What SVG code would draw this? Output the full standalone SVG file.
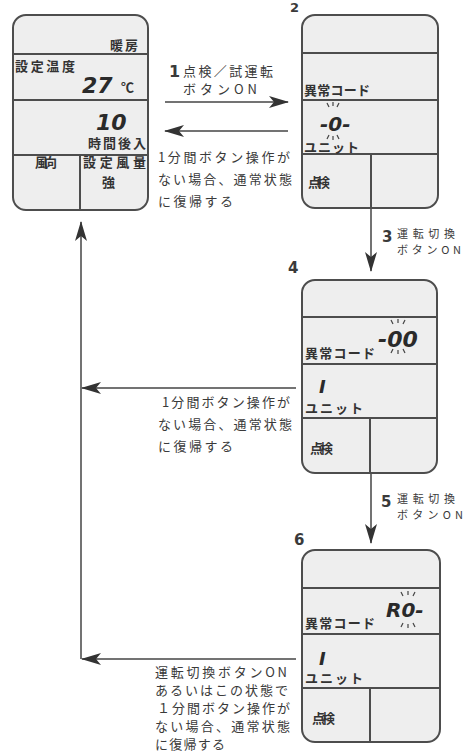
<svg xmlns="http://www.w3.org/2000/svg" width="468" height="752" viewBox="0 0 468 752">
<defs>
<marker id="ah" markerUnits="userSpaceOnUse" markerWidth="20" markerHeight="12" refX="19" refY="6" orient="auto">
<path d="M0,0 L20,6 L0,12 L5,6 z" fill="#333"/>
</marker>
<style>
.pnl{fill:#eeeeee;stroke:#4d4d4d;stroke-width:2}
.dv{stroke:#4d4d4d;stroke-width:2;fill:none}
.t{font-family:"Noto Sans CJK JP","Noto Sans",sans-serif;fill:#3a3a3a;font-size:13px}
.s{font-size:11px}
.pt{font-family:"Noto Sans CJK JP","Noto Sans",sans-serif;fill:#333;font-size:13px;font-weight:bold}
.num{font-family:"DejaVu Sans","Liberation Sans",sans-serif;fill:#3a3a3a;font-weight:bold}
.seg{font-family:"DejaVu Sans","Liberation Sans",sans-serif;font-style:italic;font-weight:bold;fill:#2a2a2a}
.bl{stroke:#444;stroke-width:1.2}
.cn{stroke:#444;stroke-width:1.5;fill:none}
</style>
</defs>
<rect width="468" height="752" fill="#ffffff"/>

<g id="node1">
<rect class="pnl" x="13" y="15" width="135" height="195" rx="13"/>
<path class="dv" d="M13,54 H148 M13,100 H148 M13,155 H148 M80,155 V210"/>
<text class="pt" x="110" y="50" textLength="28">暖房</text>
<text class="pt" x="15" y="71" textLength="60">設定温度</text>
<text class="seg" x="82" y="93" font-size="22" font-style="normal">27</text>
<text class="pt" x="121" y="92" font-size="14">℃</text>
<text class="seg" x="96" y="130" font-size="22">10</text>
<text class="pt" x="88" y="148" font-size="12" textLength="58">時間後入</text>
<text class="pt" x="35" y="167" font-size="12" textLength="22">風向</text>
<text class="pt" x="83" y="167" textLength="63">設定風量</text>
<text class="pt" x="102" y="187">強</text>
</g>

<g id="node2">
<text class="num" x="290" y="12" font-size="13">2</text>
<rect class="pnl" x="302" y="15" width="136" height="193" rx="13"/>
<path class="dv" d="M302,53 H438 M302,100 H438 M302,154 H438 M371,154 V208"/>
<text class="pt" x="304" y="95" textLength="66">異常コード</text>
<text class="seg" x="320" y="131" font-size="20">-0-</text>
<path class="bl" d="M327,103 L329,107 M333,102 V106 M339,103 L337,107 M327,139 L329,135 M333,140 V136 M339,139 L337,135"/>
<text class="pt" x="304" y="152" textLength="55">ユニット</text>
<text class="pt" x="308" y="187" font-size="12" textLength="22">点検</text>
</g>

<g id="node4">
<text class="num" x="288" y="273" font-size="15">4</text>
<rect class="pnl" x="302" y="280" width="135" height="193" rx="13"/>
<path class="dv" d="M302,317 H437 M302,364 H437 M302,418 H437 M370,418 V473"/>
<text class="pt" x="305" y="358" textLength="70">異常コード</text>
<text class="seg" x="378" y="347" font-size="22">-00</text>
<path class="bl" d="M391,320 L393,324 M398,319 V323 M405,320 L403,324 M391,353 L393,349 M398,354 V350 M405,353 L403,349"/>
<text class="seg" x="319" y="393" font-size="18">I</text>
<text class="pt" x="305" y="413" textLength="58">ユニット</text>
<text class="pt" x="310" y="453" font-size="12" textLength="23">点検</text>
</g>

<g id="node6">
<text class="num" x="294" y="545" font-size="15">6</text>
<rect class="pnl" x="302" y="550" width="138" height="192" rx="13"/>
<path class="dv" d="M302,588 H440 M302,634 H440 M302,688 H440 M370,688 V742"/>
<text class="pt" x="305" y="628" textLength="70">異常コード</text>
<text class="seg" x="386" y="617" font-size="20">R0-</text>
<path class="bl" d="M401,592 L403,596 M408,591 V595 M415,592 L413,596 M401,627 L403,623 M408,628 V624 M415,627 L413,623"/>
<text class="seg" x="319" y="665" font-size="18">I</text>
<text class="pt" x="305" y="683" textLength="58">ユニット</text>
<text class="pt" x="312" y="723" font-size="12" textLength="23">点検</text>
</g>

<g id="connectors">
<line class="cn" x1="165" y1="102" x2="288" y2="102" marker-end="url(#ah)"/>
<line class="cn" x1="288" y1="131" x2="165" y2="131" marker-end="url(#ah)"/>
<line class="cn" x1="371" y1="209" x2="371" y2="271" marker-end="url(#ah)"/>
<line class="cn" x1="296" y1="388" x2="82" y2="388" marker-end="url(#ah)"/>
<line class="cn" x1="371" y1="474" x2="371" y2="543" marker-end="url(#ah)"/>
<line class="cn" x1="296" y1="659" x2="82" y2="659" marker-end="url(#ah)"/>
<line class="cn" x1="81" y1="659" x2="81" y2="222" marker-end="url(#ah)"/>

<text class="num" x="169" y="77" font-size="16">1</text>
<text class="t" x="183" y="76" font-size="12" textLength="90">点検／試運転</text>
<text class="t" x="183" y="94" font-size="12" textLength="74">ボタンON</text>
<text class="t" x="158" y="162" textLength="132">1分間ボタン操作が</text>
<text class="t" x="158" y="184" textLength="134">ない場合、通常状態</text>
<text class="t" x="158" y="206" textLength="75">に復帰する</text>

<text class="num" x="382" y="242" font-size="15">3</text>
<text class="t s" x="397" y="238" textLength="58">運転切換</text>
<text class="t s" x="397" y="254" textLength="64">ボタンON</text>

<text class="t" x="162" y="407" textLength="128">1分間ボタン操作が</text>
<text class="t" x="158" y="429" textLength="134">ない場合、通常状態</text>
<text class="t" x="158" y="451" textLength="75">に復帰する</text>

<text class="num" x="381" y="507" font-size="15">5</text>
<text class="t s" x="397" y="503" textLength="58">運転切換</text>
<text class="t s" x="397" y="519" textLength="66">ボタンON</text>

<text class="t" x="155" y="677" font-size="12" textLength="132">運転切換ボタンON</text>
<text class="t" x="155" y="695" font-size="12" textLength="133">あるいはこの状態で</text>
<text class="t" x="157" y="713" font-size="12" textLength="133">１分間ボタン操作が</text>
<text class="t" x="155" y="731" font-size="12" textLength="135">ない場合、通常状態</text>
<text class="t" x="155" y="749" font-size="12" textLength="70">に復帰する</text>
</g>
</svg>
